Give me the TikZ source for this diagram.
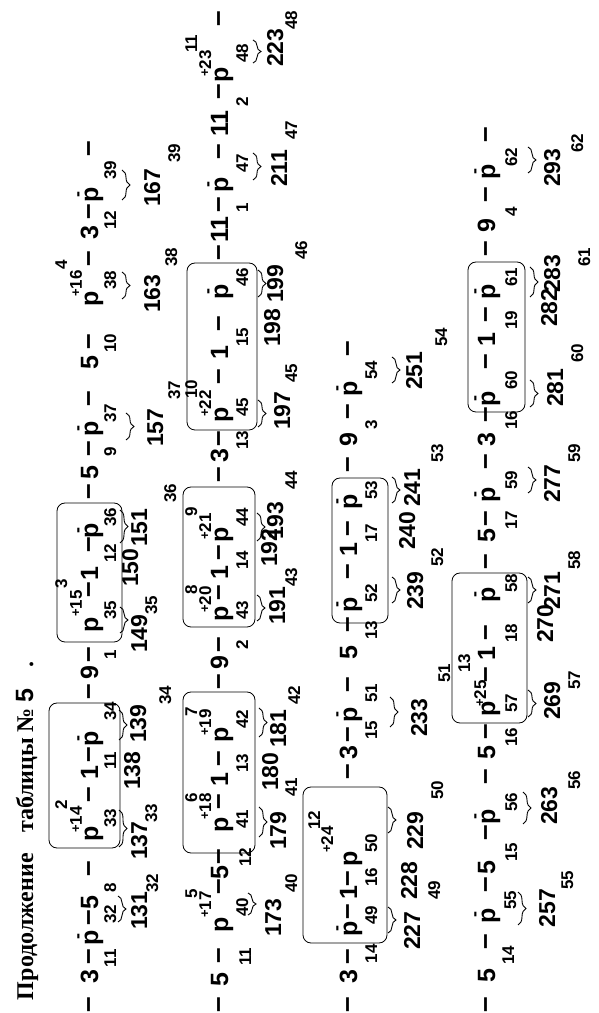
\documentclass[tikz,border=0pt]{standalone}
\usepackage{fontspec}
\setmainfont{Liberation Serif}
\newfontfamily\ar{Liberation Sans}
\usetikzlibrary{decorations.pathreplacing}
\newcommand\mainf{\ar\bfseries\fontsize{25}{25}\selectfont}
\newcommand\subf{\ar\bfseries\fontsize{17}{17}\selectfont}
\newcommand\tickf{\ar\bfseries\fontsize{18}{18}\selectfont}
\newcommand\bnf{\ar\bfseries\fontsize{23}{23}\selectfont}
\newcommand\dshf{\ar\bfseries\fontsize{28}{28}\selectfont}
\newcommand\ttlf{\rmfamily\bfseries\fontsize{24}{24}\selectfont}
\newcommand\tM[3]{\node[mn] at (#1,#2) {#3};}
\newcommand\tS[3]{\node[sb] at (#1,#2) {#3};}
\newcommand\tB[3]{\node[bn] at (#1,#2) {#3};}
\newcommand\tD[2]{\node[dsh] at (#1-2,#2) {–};}
\newcommand\tP[2]{\node[mn] at (#1,#2) {p};\node[tck] at (#1-15,#2+5) {-};}
\newcommand\tBr[3]{\draw[brc] (#1,#3) -- (#1,#2);}
\newcommand\tBox[4]{\draw[bx] (#1,#2) rectangle (#3,#4);}
\newcommand\pl{\raisebox{2pt}{\fontsize{13}{13}\selectfont+}}
\begin{document}
\begin{tikzpicture}[x=1pt,y=1pt,
  every node/.style={rotate=90,anchor=base west,inner sep=0pt,outer sep=0pt},
  mn/.style={font=\mainf},
  sb/.style={font=\subf},
  tck/.style={font=\tickf},
  bn/.style={font=\bnf},
  dsh/.style={font=\dshf},
  ttl/.style={font=\ttlf},
  bx/.style={draw,rounded corners=8pt,line width=0.8pt},
  brc/.style={decorate,decoration={brace,amplitude=8pt},line width=0.9pt}]
\fill[white] (0,0) rectangle (598,1013);
\useasboundingbox (0,0) rectangle (598,1013);
% title
\node[ttl] (t1) at (33,13) {Продолжение};
\node[ttl] (t2) at (33,180) {таблицы};
\node[ttl] (t3) at (33,280) {№};
\node[font=\mainf] (t4) at (33,310) {5};
\node[ttl] (t5) at (33,345) {.};
% ---------------- row 1
\tD{98}{1} \tM{98}{30}{3} \tD{98}{48} \tS{116}{46}{11}
\tP{98}{68} \tS{116}{89}{32} \tD{98}{87} \tM{98}{103}{5} \tS{116}{120}{8} \tD{98}{136}
\tBox{49}{165}{120}{310}
\tM{98}{171}{p} \tS{82}{180}{\pl14} \tS{67}{203}{2} \tS{116}{185}{33}
\tD{98}{210} \tM{98}{233}{1} \tD{98}{250} \tS{116}{243}{11}
\tP{98}{266} \tS{116}{292}{34}
\tBr{118}{91}{117} \tBr{119}{166}{203} \tBr{119}{273}{303}
\tB{147}{83}{131} \tS{158}{120}{32}
\tB{147}{153}{137} \tS{157}{190}{33}
\tB{140}{223}{138}
\tB{146}{270}{139} \tS{171}{308}{34}
\tD{98}{313} \tM{98}{333}{9} \tD{98}{350} \tS{116}{353}{1}
\tBox{57}{371}{122}{510}
\tM{98}{380}{p} \tS{82}{396}{\pl15} \tS{67}{424}{3} \tS{116}{393}{35}
\tD{98}{415} \tM{98}{432}{1} \tS{116}{450}{12} \tD{98}{460}
\tP{98}{474} \tS{116}{486}{36}
\tBr{120}{380}{406} \tBr{120}{470}{503}
\tB{147}{360}{149} \tS{157}{398}{35}
\tB{138}{426}{150}
\tB{147}{466}{151} \tS{176}{510}{36}
\tD{98}{513} \tM{98}{533}{5} \tS{116}{556}{9} \tD{98}{556}
\tP{98}{576} \tS{116}{590}{37} \tD{98}{606} \tM{98}{643}{5} \tS{116}{660}{10} \tD{98}{663}
\tM{98}{706}{p} \tS{82}{716}{\pl16} \tS{67}{743}{4} \tS{116}{723}{38}
\tD{98}{746} \tM{98}{773}{3} \tD{98}{793} \tS{116}{783}{12}
\tP{98}{810} \tS{116}{833}{39} \tD{98}{856}
\tBr{126}{573}{600} \tBr{122}{714}{741} \tBr{122}{813}{843}
\tB{163}{566}{157} \tS{180}{613}{37}
\tB{160}{700}{163} \tS{177}{746}{38}
\tB{160}{806}{167} \tS{180}{850}{39}
% ---------------- row 2
\tD{228}{1} \tM{228}{26}{5} \tD{228}{50} \tS{251}{47}{11}
\tM{228}{80}{p} \tS{211}{95}{\pl17} \tS{197}{114}{5} \tS{248}{96}{40}
\tD{228}{118} \tM{228}{133}{5} \tD{228}{148} \tS{251}{146}{12}
\tBox{183}{160}{255}{321}
\tM{228}{180}{p} \tS{211}{193}{\pl18} \tS{197}{210}{6} \tS{248}{184}{41}
\tD{228}{203} \tM{228}{226}{1} \tS{248}{240}{13} \tD{228}{246}
\tM{228}{270}{p} \tS{211}{277}{\pl19} \tS{197}{296}{7} \tS{248}{284}{42}
\tBr{248}{98}{120} \tBr{259}{176}{206} \tBr{259}{276}{305}
\tB{281}{76}{173} \tS{297}{120}{40}
\tB{286}{163}{179} \tS{297}{216}{41}
\tB{278}{222}{180}
\tB{286}{265}{181} \tS{300}{308}{42}
\tD{228}{323} \tM{228}{343}{9} \tD{228}{360} \tS{248}{363}{2}
\tBox{183}{386}{255}{526}
\tM{228}{391}{p} \tS{211}{400}{\pl20} \tS{197}{418}{8} \tS{248}{393}{43}
\tD{228}{412} \tM{228}{433}{1} \tS{248}{443}{14} \tD{228}{452}
\tM{228}{470}{p} \tS{211}{473}{\pl21} \tS{197}{496}{9} \tS{248}{486}{44}
\tBr{257}{392}{418} \tBr{257}{472}{500}
\tB{285}{388}{191} \tS{297}{426}{43}
\tB{277}{446}{192}
\tB{283}{473}{193} \tS{297}{523}{44}
\tD{228}{530} \tM{228}{550}{3} \tD{228}{566} \tS{248}{563}{13}
\tBox{187}{583}{257}{750}
\tM{228}{590}{p} \tS{211}{596}{\pl22} \tS{197}{614}{10} \tS{248}{596}{45}
\tD{228}{628} \tM{228}{653}{1} \tS{248}{666}{15} \tD{228}{681}
\tP{228}{713} \tS{248}{726}{46}
\tBr{258}{586}{613} \tBr{258}{716}{743}
\tB{290}{583}{197} \tS{297}{630}{45}
\tB{280}{666}{198}
\tB{283}{710}{199} \tS{307}{753}{46}
\tD{228}{752} \tM{228}{770}{11} \tD{228}{800} \tS{248}{800}{1}
\tP{228}{820} \tS{248}{840}{47} \tD{228}{853} \tM{228}{876}{11} \tS{248}{906}{2} \tD{228}{913}
\tM{228}{930}{p} \tS{211}{936}{\pl23} \tS{197}{960}{11} \tS{248}{950}{48} \tD{228}{986}
\tBr{253}{833}{860} \tBr{253}{950}{973}
\tB{287}{826}{211} \tS{297}{873}{47}
\tB{283}{946}{223} \tS{297}{983}{48}
% ---------------- row 3
\tD{357}{1} \tM{357}{30}{3} \tD{357}{48} \tS{377}{50}{14}
\tBox{303}{70}{387}{226}
\tP{357}{76} \tS{377}{88}{49} \tD{357}{93} \tM{357}{113}{1} \tS{377}{126}{16} \tD{357}{126}
\tM{357}{146}{p} \tS{333}{160}{\pl24} \tS{320}{183}{12} \tS{377}{160}{50}
\tBr{388}{80}{106} \tBr{388}{180}{206}
\tB{420}{63}{227} \tS{440}{113}{49}
\tB{417}{113}{228}
\tB{423}{163}{229} \tS{443}{213}{50}
\tD{357}{233} \tM{357}{253}{3} \tD{357}{270} \tS{377}{273}{15}
\tP{357}{290} \tS{377}{310}{51} \tD{357}{320} \tM{357}{353}{5} \tD{357}{380} \tS{377}{373}{13}
\tBr{390}{286}{316}
\tB{427}{276}{233} \tS{450}{330}{51}
\tBox{332}{390}{388}{535}
\tP{357}{400} \tS{377}{410}{52} \tD{357}{433} \tM{357}{456}{1} \tS{377}{470}{17} \tD{357}{476}
\tP{357}{503} \tS{377}{513}{53}
\tBr{392}{410}{436} \tBr{392}{510}{536}
\tB{423}{403}{239} \tS{443}{446}{52}
\tB{415}{463}{240}
\tB{420}{506}{241} \tS{443}{550}{53}
\tD{357}{540} \tM{357}{566}{9} \tD{357}{593} \tS{377}{583}{3}
\tP{357}{616} \tS{377}{633}{54} \tD{357}{656}
\tBr{392}{630}{656}
\tB{422}{623}{251} \tS{447}{666}{54}
% ---------------- row 4
\tD{495}{1} \tM{495}{31}{5} \tD{495}{64} \tS{514}{48}{14}
\tP{495}{90} \tS{516}{103}{55} \tD{495}{120} \tM{495}{138}{5} \tS{517}{151}{15} \tD{495}{172}
\tP{495}{188} \tS{517}{201}{56} \tD{495}{228} \tM{495}{253}{5} \tS{517}{266}{16} \tD{495}{273}
\tBr{518}{88}{121} \tBr{523}{189}{221}
\tB{555}{86}{257} \tS{573}{123}{55}
\tB{557}{188}{263} \tS{580}{223}{56}
\tBox{452}{290}{527}{440}
\tM{495}{296}{p} \tS{486}{306}{\pl25} \tS{470}{340}{13} \tS{517}{300}{57}
\tD{495}{330} \tM{495}{352}{1} \tD{495}{372} \tS{517}{370}{18}
\tP{495}{410} \tS{517}{420}{58}
\tBr{528}{296}{323} \tBr{528}{410}{436}
\tB{560}{293}{269} \tS{580}{323}{57}
\tB{553}{370}{270}
\tB{560}{403}{271} \tS{580}{443}{58}
\tD{495}{443} \tM{495}{470}{5} \tD{495}{486} \tS{517}{483}{17}
\tP{495}{510} \tS{517}{523}{59} \tD{495}{543} \tM{495}{566}{3} \tD{495}{590} \tS{517}{583}{16}
\tBr{528}{520}{546}
\tB{560}{510}{277} \tS{580}{550}{59}
\tBox{468}{601}{525}{751}
\tP{495}{606} \tS{517}{623}{60} \tD{495}{643} \tM{495}{666}{1} \tD{495}{690} \tS{517}{683}{19}
\tP{495}{713} \tS{517}{726}{61}
\tBr{530}{606}{633} \tBr{530}{716}{746}
\tB{563}{606}{281} \tS{583}{650}{60}
\tB{557}{686}{282}
\tB{560}{720}{283} \tS{590}{746}{61}
\tD{495}{756} \tM{495}{780}{9} \tD{495}{810} \tS{517}{796}{4}
\tP{495}{833} \tS{517}{846}{62} \tD{495}{870}
\tBr{528}{840}{866}
\tB{560}{826}{293} \tS{583}{860}{62}
\end{tikzpicture}
\end{document}
